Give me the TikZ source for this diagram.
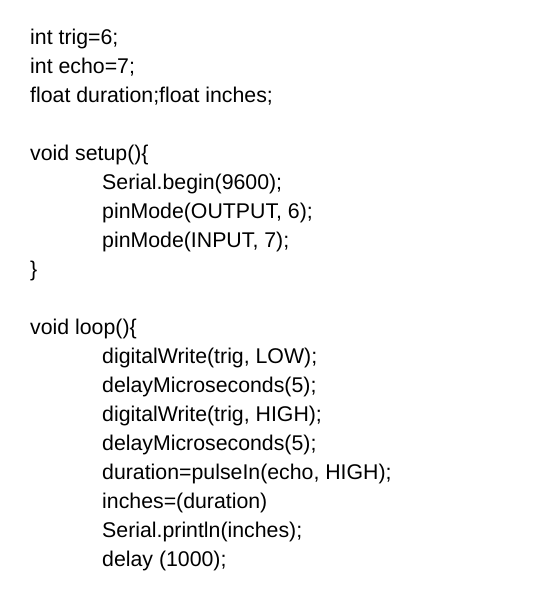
\documentclass[tikz,border=0pt]{standalone}
\usepackage{fontspec}
\setmainfont{Liberation Sans}
\usepackage{tikz}

\begin{document}
\begin{tikzpicture}[x = 1pt, y = -1pt,
	code/.style = {anchor = base west, inner sep = 0pt, font = \fontsize{21.3}{25}\selectfont}]
	\useasboundingbox (0,0) rectangle (545,600);
	% globals
	\node [code] (trig) at (30,44) {int trig=6;};
	\node [code] (echo) at (30,73) {int echo=7;};
	\node [code] (vars) at (30,102) {float duration;float inches;};
	% setup
	\node [code] (setup) at (30,160) {void setup()\{};
	\node [code] (serial) at (102,189) {Serial.begin(9600);};
	\node [code] (pinout) at (102,218) {pinMode(OUTPUT, 6);};
	\node [code] (pinin) at (102,247) {pinMode(INPUT, 7);};
	\node [code] (setupend) at (30,276) {\}};
	% loop
	\node [code] (loop) at (30,334) {void loop()\{};
	\node [code] (low) at (102,363) {digitalWrite(trig, LOW);};
	\node [code] (wait1) at (102,392) {delayMicroseconds(5);};
	\node [code] (high) at (102,421) {digitalWrite(trig, HIGH);};
	\node [code] (wait2) at (102,450) {delayMicroseconds(5);};
	\node [code] (pulse) at (102,479) {duration=pulseIn(echo, HIGH);};
	\node [code] (conv) at (102,508) {inches=(duration)};
	\node [code] (print) at (102,537) {Serial.println(inches);};
	\node [code] (pause) at (102,566) {delay (1000);};
\end{tikzpicture}
\end{document}
